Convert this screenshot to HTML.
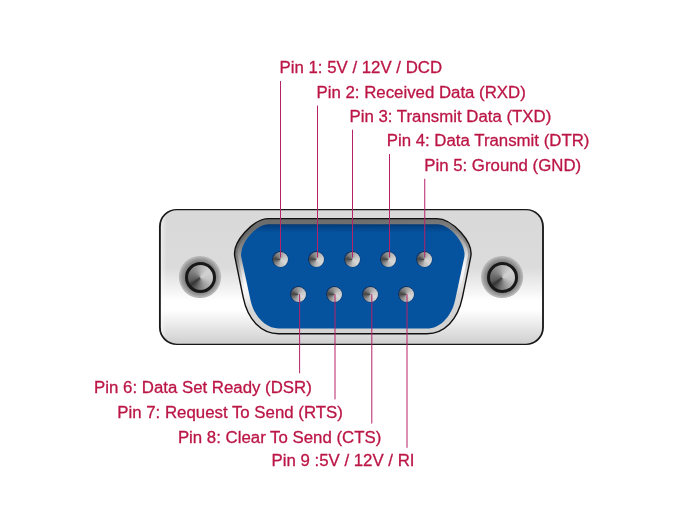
<!DOCTYPE html>
<html><head><meta charset="utf-8"><title>DB9 pinout</title>
<style>
html,body{margin:0;padding:0;background:#fff;}
#w{position:relative;width:700px;height:530px;overflow:hidden;background:#fff}
#w svg{position:absolute;left:0;top:0;display:block}
text{font-family:"Liberation Sans",Arial,Helvetica,sans-serif;font-size:16.82px;fill:#bb1646;stroke:#bb1646;stroke-width:0.3px}
.pin{position:absolute;width:15.2px;height:15.2px;border-radius:50%;
background:conic-gradient(from 0deg,#9c9c9c 0deg,#c6c6c6 60deg,#d8d8d8 120deg,#bebebe 180deg,#868686 230deg,#424242 275deg,#767676 315deg,#9c9c9c 360deg);
box-shadow:-0.35px -0.35px 0 0.45px rgba(20,35,70,.85), 0 0 0 0.45px rgba(30,50,90,.55)}
.scr{position:absolute;width:31px;height:31px;border-radius:50%;box-sizing:border-box;border:3.5px solid #181818;
background:conic-gradient(from 0deg,#b0b0b0 0deg,#d2d2d2 50deg,#c4c4c4 105deg,#9c9c9c 155deg,#6c6c6c 195deg,#343434 232deg,#5a5a5a 252deg,#747474 290deg,#949494 330deg,#b0b0b0 360deg)}
</style></head><body>
<div id="w">
<svg width="700" height="530" viewBox="0 0 700 530">
<defs>
<linearGradient id="shell" gradientUnits="userSpaceOnUse" x1="0" y1="209.4" x2="0" y2="343.9">
<stop offset="0" stop-color="#d9d9d9"/>
<stop offset="0.43" stop-color="#dbdbdb"/>
<stop offset="0.68" stop-color="#ffffff"/>
<stop offset="0.748" stop-color="#ffffff"/>
<stop offset="1" stop-color="#cfcfcf"/>
</linearGradient>
<linearGradient id="rim" gradientUnits="userSpaceOnUse" x1="235" y1="218" x2="245.4" y2="348">
<stop offset="0" stop-color="#6c6c6c"/>
<stop offset="0.107" stop-color="#6e6e6e"/>
<stop offset="0.23" stop-color="#848484"/>
<stop offset="0.344" stop-color="#b4b4b4"/>
<stop offset="0.443" stop-color="#e6e6e6"/>
<stop offset="0.52" stop-color="#fafafa"/>
<stop offset="0.60" stop-color="#f2f2f2"/>
<stop offset="0.72" stop-color="#d6d6d6"/>
<stop offset="0.9" stop-color="#d2d2d2"/>
</linearGradient>
<linearGradient id="edge" gradientUnits="userSpaceOnUse" x1="0" y1="218" x2="0" y2="334">
<stop offset="0" stop-color="#333" stop-opacity="0"/>
<stop offset="0.05" stop-color="#333" stop-opacity="0"/>
<stop offset="0.2" stop-color="#333" stop-opacity="0.28"/>
<stop offset="0.34" stop-color="#444" stop-opacity="0.4"/>
<stop offset="0.62" stop-color="#555" stop-opacity="0.0"/>
<stop offset="1" stop-color="#555" stop-opacity="0.0"/>
</linearGradient>
<linearGradient id="lhl" gradientUnits="userSpaceOnUse" x1="160.8" y1="0" x2="166.5" y2="0">
<stop offset="0" stop-color="#fff" stop-opacity="0.5"/>
<stop offset="1" stop-color="#fff" stop-opacity="0"/>
</linearGradient>
<clipPath id="sc"><rect x="160.83" y="210.25" width="381.25" height="133.4" rx="16.1" ry="16.4"/></clipPath>
<clipPath id="oc"><path d="M234.87 256.81 C231.89 242.29 253.08 218.60 269.04 218.60 L436.56 218.60 C452.52 218.60 473.71 242.29 470.73 256.81 L462.40 297.45 C457.79 319.93 444.33 333.70 426.97 333.70 L278.63 333.70 C261.27 333.70 247.81 319.93 243.20 297.45 Z"/></clipPath>
<linearGradient id="blue" gradientUnits="userSpaceOnUse" x1="0" y1="224" x2="0" y2="329">
<stop offset="0" stop-color="#033872"/>
<stop offset="0.03" stop-color="#044488"/>
<stop offset="0.085" stop-color="#05539f"/>
<stop offset="1" stop-color="#05539f"/>
</linearGradient>
</defs>
<rect width="700" height="530" fill="#fff"/>
<rect x="158.98" y="208.95" width="384.95" height="136.1" rx="17.8" ry="17.6" fill="#181818"/>
<rect x="160.83" y="210.25" width="381.25" height="133.4" rx="16.1" ry="16.4" fill="url(#shell)"/>
<rect x="160.83" y="210.25" width="12" height="133.4" fill="url(#lhl)" clip-path="url(#sc)"/>

<path d="M234.87 256.81 C231.89 242.29 253.08 218.60 269.04 218.60 L436.56 218.60 C452.52 218.60 473.71 242.29 470.73 256.81 L462.40 297.45 C457.79 319.93 444.33 333.70 426.97 333.70 L278.63 333.70 C261.27 333.70 247.81 319.93 243.20 297.45 Z" fill="url(#rim)"/>
<path d="M234.87 256.81 C231.89 242.29 253.08 218.60 269.04 218.60 L436.56 218.60 C452.52 218.60 473.71 242.29 470.73 256.81 L462.40 297.45 C457.79 319.93 444.33 333.70 426.97 333.70 L278.63 333.70 C261.27 333.70 247.81 319.93 243.20 297.45 Z" fill="none" stroke="url(#edge)" stroke-width="6" clip-path="url(#oc)"/>
<path d="M234.87 256.81 C231.89 242.29 253.08 218.60 269.04 218.60 L436.56 218.60 C452.52 218.60 473.71 242.29 470.73 256.81 L462.40 297.45 C457.79 319.93 444.33 333.70 426.97 333.70 L278.63 333.70 C261.27 333.70 247.81 319.93 243.20 297.45 Z" fill="none" stroke="#111" stroke-width="1.4"/>
<path d="M241.36 257.54 C238.65 244.91 255.30 224.30 268.22 224.30 L437.38 224.30 C450.31 224.30 466.95 244.91 464.24 257.54 L455.08 300.15 C451.54 316.59 439.74 328.50 426.98 328.50 L278.62 328.50 C265.86 328.50 254.06 316.59 250.52 300.15 Z" fill="url(#blue)"/>
<circle cx="200.0" cy="277.0" r="21.1" fill="#b6b6b6"/><circle cx="200.0" cy="277.0" r="19.6" fill="#a3a3a3"/><circle cx="200.0" cy="277.0" r="18.1" fill="#939393"/><circle cx="200.0" cy="277.0" r="16.6" fill="#858585"/>
<circle cx="502.1" cy="277.0" r="21.1" fill="#b6b6b6"/><circle cx="502.1" cy="277.0" r="19.6" fill="#a3a3a3"/><circle cx="502.1" cy="277.0" r="18.1" fill="#939393"/><circle cx="502.1" cy="277.0" r="16.6" fill="#858585"/>
</svg>
<div class="scr" style="left:184.50px;top:261.55px"></div>
<div class="scr" style="left:486.60px;top:261.55px"></div>
<div class="pin" style="left:272.70px;top:251.80px"></div>
<div class="pin" style="left:308.70px;top:251.80px"></div>
<div class="pin" style="left:344.70px;top:251.80px"></div>
<div class="pin" style="left:380.70px;top:251.80px"></div>
<div class="pin" style="left:416.70px;top:251.80px"></div>
<div class="pin" style="left:290.70px;top:286.80px"></div>
<div class="pin" style="left:326.70px;top:286.80px"></div>
<div class="pin" style="left:362.70px;top:286.80px"></div>
<div class="pin" style="left:398.70px;top:286.80px"></div>
<svg width="700" height="530" viewBox="0 0 700 530" style="will-change:transform">
<path d="M280.5 81V257.5 M317.5 105.5V257.5 M352.5 129.7V257.5 M389.5 154V257.5 M424.75 178.8V257.5 M299.6 294.2V373.3 M335.0 294.2V399.4 M371.8 294.2V423.6 M407.0 294.2V447.8" stroke="#b62268" stroke-width="1" fill="none"/>
<text x="279.5" y="72.5">Pin 1: 5V / 12V / DCD</text>
<text x="316.5" y="97.5">Pin 2: Received Data (RXD)</text>
<text x="349.5" y="121.5">Pin 3: Transmit Data (TXD)</text>
<text x="386.7" y="146.3">Pin 4: Data Transmit (DTR)</text>
<text x="424.2" y="170.6">Pin 5: Ground (GND)</text>
<text x="94.1" y="393.3">Pin 6: Data Set Ready (DSR)</text>
<text x="117.3" y="417.8">Pin 7: Request To Send (RTS)</text>
<text x="177.9" y="442.5">Pin 8: Clear To Send (CTS)</text>
<text x="271.5" y="466.4">Pin 9 :5V / 12V / RI</text>
</svg>
</div>
</body></html>
